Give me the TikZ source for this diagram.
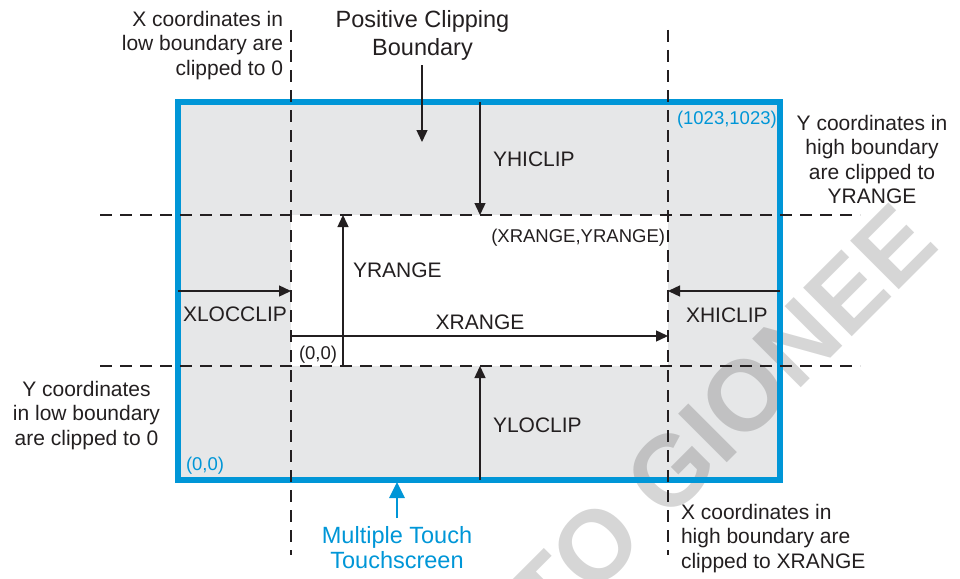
\documentclass[tikz,border=0pt]{standalone}
\usepackage{fontspec}
\setmainfont{Liberation Sans}
\usetikzlibrary{arrows.meta}
\definecolor{txt}{HTML}{231F20}
\definecolor{boxgray}{HTML}{E6E7E8}
\definecolor{tblue}{RGB}{0,150,215}
\tikzset{
  every node/.style={inner sep=0pt, outer sep=0pt, text=txt},
  big/.style={font=\fontsize{21}{24.5}\selectfont},
  large/.style={font=\fontsize{23.5}{27}\selectfont},
  small/.style={font=\fontsize{18.5}{22}\selectfont},
  dashline/.style={draw=txt, line width=2.5pt, dash pattern=on 12pt off 8pt},
  arr/.style={draw=txt, line width=1.4pt, -{Triangle[length=12pt,width=11pt]}},
  barr/.style={draw=tblue, line width=2.7pt, -{Triangle[length=16pt,width=15pt]}},
}
\begin{document}
\begin{tikzpicture}[x=1pt,y=-1pt]
\useasboundingbox (0,0) rectangle (960,578);
% areas
\coordinate (bl) at (178,480);
\coordinate (tr) at (780,102);
\coordinate (il) at (291,366);
\coordinate (ir) at (668,215);
\fill[boxgray] (bl) rectangle (tr);
\fill[white] (il) rectangle (ir);
% watermark
\node[rotate=45, text=black, opacity=0.16, font=\fontsize{100}{100}\bfseries\selectfont] (wm) at (722,419) {TO GIONEE};
\draw[tblue, line width=5.3pt] (bl) rectangle (tr);
% dashed boundaries
\coordinate (v1a) at (291,30);  \coordinate (v1b) at (291,555);
\coordinate (v2a) at (668,30);  \coordinate (v2b) at (668,555);
\coordinate (h1a) at (100,215); \coordinate (h1b) at (860,215);
\coordinate (h2a) at (100,366); \coordinate (h2b) at (860,366);
\draw[dashline] (v1a) -- (v1b);
\draw[dashline] (v2a) -- (v2b);
\draw[dashline] (h1a) -- (h1b);
\draw[dashline] (h2a) -- (h2b);
% arrows
\coordinate (pcA) at (422,65);  \coordinate (pcB) at (422,142);
\coordinate (yhA) at (480,102); \coordinate (yhB) at (480,215);
\coordinate (ylA) at (480,480); \coordinate (ylB) at (480,366);
\coordinate (yrA) at (343,366); \coordinate (yrB) at (343,215);
\coordinate (xrA) at (291,336); \coordinate (xrB) at (668,336);
\coordinate (xlA) at (178,291); \coordinate (xlB) at (291,291);
\coordinate (xhA) at (780,291); \coordinate (xhB) at (668,291);
\coordinate (mtA) at (397,518); \coordinate (mtB) at (397,482);
\draw[arr] (pcA) -- (pcB);
\draw[arr] (yhA) -- (yhB);
\draw[arr] (ylA) -- (ylB);
\draw[arr] (yrA) -- (yrB);
\draw[arr] (xrA) -- (xrB);
\draw[arr] (xlA) -- (xlB);
\draw[arr] (xhA) -- (xhB);
\draw[barr] (mtA) -- (mtB);
% texts
\node[big, align=right, anchor=north east] (xlow) at (283,11) {X coordinates in\\low boundary are\\clipped to 0};
\node[font=\fontsize{23.5}{28}\selectfont, align=center, anchor=north] (pcb) at (422.5,10) {Positive Clipping\\Boundary};
\node[small, text=tblue, anchor=base west] (c1023) at (677,124) {(1023,1023)};
\node[big, align=center, anchor=north] (yhigh) at (872,115) {Y coordinates in\\high boundary\\are clipped to\\YRANGE};
\node[big, anchor=base west] (yhiclip) at (493,166) {YHICLIP};
\node[small, anchor=base east] (xryr) at (665,242) {(XRANGE,YRANGE)};
\node[big, anchor=base west] (yrange) at (353,277) {YRANGE};
\node[big, anchor=base west] (xlocclip) at (183,321) {XLOCCLIP};
\node[big, anchor=base] (xrange) at (480,329) {XRANGE};
\node[big, anchor=base west] (xhiclip) at (686,322) {XHICLIP};
\node[small, anchor=base west] (o1) at (299,359) {(0,0)};
\node[big, align=center, anchor=north] (ylow) at (86.5,381) {Y coordinates\\in low boundary\\are clipped to 0};
\node[big, anchor=base west] (yloclip) at (493,432) {YLOCLIP};
\node[small, text=tblue, anchor=base west] (o2) at (186,470) {(0,0)};
\node[font=\fontsize{23.5}{25}\selectfont, text=tblue, align=center, anchor=north] (mt) at (397,526) {Multiple Touch\\Touchscreen};
\node[big, align=left, anchor=north west] (xhigh) at (681,504) {X coordinates in\\high boundary are\\clipped to XRANGE};
\end{tikzpicture}
\end{document}
